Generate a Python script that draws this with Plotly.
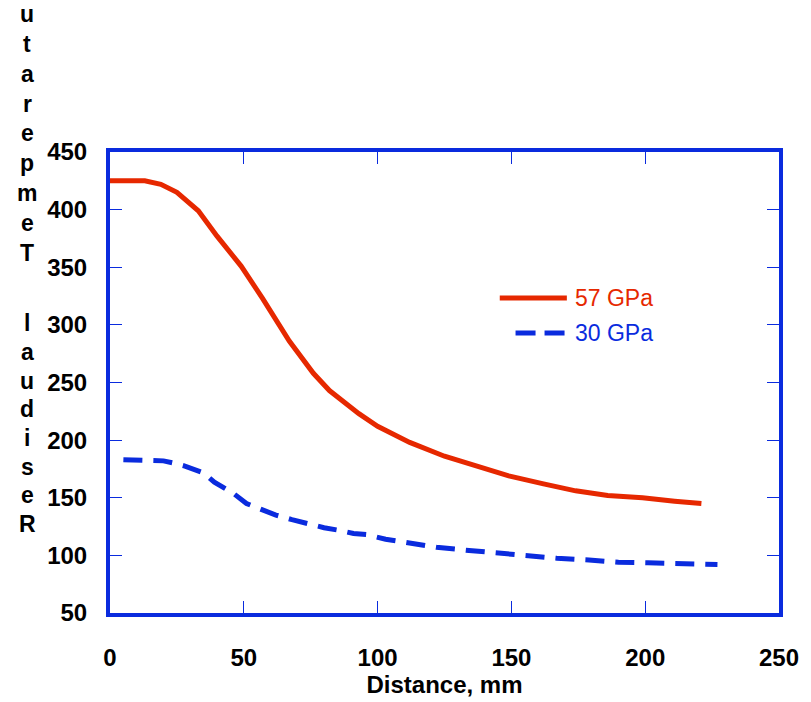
import plotly.graph_objects as go

# Residual temperature profiles along the distance, for two moduli
dist_57 = [0, 13, 19, 25, 33, 40, 49, 57, 67, 71, 76, 82, 88, 93, 100, 112, 125,
           137, 149, 162, 174, 186, 199, 211, 221]
temp_57 = [425, 425, 422, 415, 399, 377, 351, 323, 286, 273, 258, 243, 232, 223,
           212, 198, 186, 177, 169, 162, 156, 152, 150, 147, 145]

dist_30 = [5, 12, 20, 24, 28, 35, 39, 46, 51, 57, 62, 68, 73, 80, 85, 91, 96, 103,
           110, 122, 133, 145, 156, 167, 179, 190, 201, 213, 227]
temp_30 = [183, 183, 182, 180, 177.5, 171.5, 163.5, 154, 145, 139.5, 135, 131, 128,
           124, 122, 119, 118, 114, 111.5, 107, 104.5, 102, 99.5, 97.5, 96, 94, 93.5,
           92.5, 92]

series_names = ["57 GPa", "30 GPa"]
x_ticks = [0, 50, 100, 150, 200, 250]
y_ticks = [50, 100, 150, 200, 250, 300, 350, 400, 450]
x_title = "Distance, mm"
y_title_words = ["Residual", "Temperature"]

RED = "#E62800"
BLUE = "#0A2BDE"
FONT = "Liberation Sans"

W, H = 811, 702
ML, MR, MT, MB = 110, 23, 152, 89
PW, PH = W - ML - MR, H - MT - MB


def px_x(px):
    return (px - ML) / PW


def px_y(py):
    return (H - MB - py) / PH


fig = go.Figure()
fig.add_trace(go.Scatter(x=dist_57, y=temp_57, mode="lines", name=series_names[0],
                         line=dict(color=RED, width=5), showlegend=False))
fig.add_trace(go.Scatter(x=dist_30, y=temp_30, mode="lines", name=series_names[1],
                         line=dict(color=BLUE, width=5, dash="19px,11px"),
                         showlegend=False))

axis_common = dict(
    showline=True, linewidth=4, linecolor=BLUE, mirror="ticks",
    ticks="inside", ticklen=12, tickwidth=1, tickcolor=BLUE,
    showgrid=False, zeroline=False,
    tickfont=dict(family=FONT, size=24, color="black", weight="bold"),
)

fig.update_xaxes(range=[0, 250], tickvals=x_ticks, ticklabelstandoff=20,
                 title=dict(text=x_title, standoff=0,
                            font=dict(family=FONT, size=24, color="black", weight="bold")),
                 **axis_common)
fig.update_yaxes(range=[50, 450], tickvals=y_ticks, ticklabelstandoff=14,
                 **axis_common)

# Stacked-letter axis title, reading upward from the bottom; letters that
# would fall above the top edge of the page are left out
annotations = []
letter_x = px_x(26)
for word, base_py, step in [(y_title_words[0], 524, 28.7), (y_title_words[1], 253, 29.9)]:
    for i, ch in enumerate(word):
        py = base_py - i * step
        if py < 8:
            break
        annotations.append(dict(
            text=ch, xref="paper", yref="paper", x=letter_x, y=px_y(py),
            xanchor="center", yanchor="middle", showarrow=False,
            font=dict(family=FONT, size=23, color="black", weight="bold")))

# Legend keys and labels
legend_rows = [(series_names[0], RED, "solid", 505, 298),
               (series_names[1], BLUE, "20px,9px", 521, 333)]
shapes = []
for name, color, dash, x0, py in legend_rows:
    shapes.append(dict(type="line", xref="paper", yref="paper",
                       x0=px_x(x0), x1=px_x(573), y0=px_y(py), y1=px_y(py),
                       line=dict(color=color, width=5, dash=dash)))
    annotations.append(dict(text=name, xref="paper", yref="paper", x=px_x(579),
                            y=px_y(py), xanchor="left", yanchor="middle",
                            showarrow=False,
                            font=dict(family=FONT, size=23, color=color)))

fig.update_layout(
    width=W, height=H,
    margin=dict(l=ML, r=MR, t=MT, b=MB),
    paper_bgcolor="white", plot_bgcolor="white",
    annotations=annotations, shapes=shapes,
)

fig.write_html("out.html")
